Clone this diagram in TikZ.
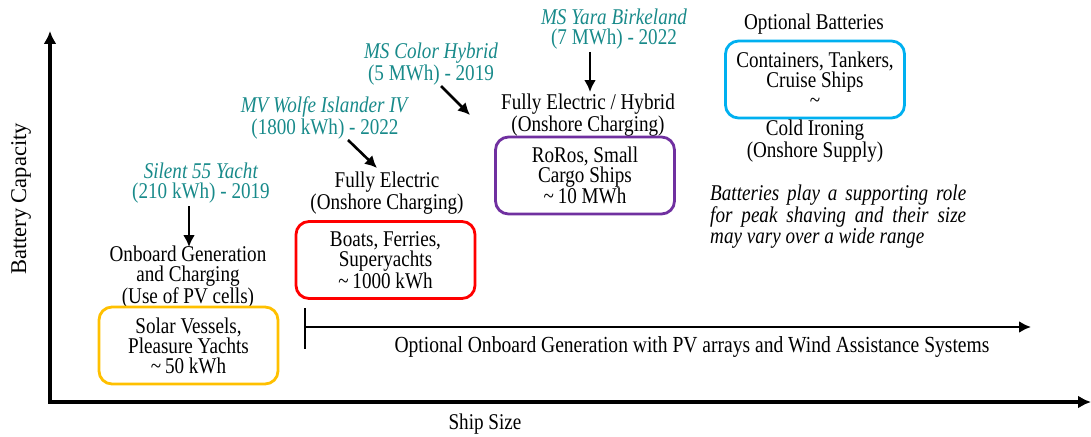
\documentclass[tikz,border=0pt]{standalone}
\usepackage{fontspec}
\setmainfont{Liberation Serif}[FakeStretch=0.85]
\newfontfamily\axisfont{Liberation Serif}
\usepackage{tikz}
\usetikzlibrary{arrows.meta,calc,positioning}
\definecolor{shipteal}{RGB}{24,138,138}
\definecolor{boxyellow}{RGB}{255,192,0}
\definecolor{boxred}{RGB}{255,0,0}
\definecolor{boxpurple}{RGB}{112,48,160}
\definecolor{boxblue}{RGB}{0,176,240}
\tikzset{
        block/.style = {draw, rectangle, rounded corners=13pt, line width=2.8pt,
            minimum height=77pt,
            minimum width=179pt, align=center, inner sep=0pt},
        note/.style = {align=center, inner sep=0pt},
        vessel/.style = {note, text=shipteal},
        pointer/.style = {draw, line width=2.6pt, -{Latex[length=12pt,width=12pt]}},
        axis/.style = {draw, line width=3.4pt, {Latex[length=13pt,width=13pt]}-{Latex[length=13pt,width=13pt]}},
    }

\begin{document}
\begin{tikzpicture}[x=1pt, y=-1pt, font=\fontsize{22.5}{20}\selectfont]
    \useasboundingbox (0,0) rectangle (1091,436);

    % axes
    \coordinate (origin) at (50,402);
    \coordinate (ytop) at (50,31);
    \coordinate (xend) at (1091,402);
    \draw[axis] (ytop) -- (origin) -- (xend);
    \node[note, rotate=90, font=\axisfont\fontsize{22.5}{20}\selectfont] (ylab) at (21,199) {Battery Capacity};
    \node[note] (xlab) at (485,424) {Ship Size};

    % small vessels
    \node[vessel] (silent) at (201,183) {\textit{Silent 55 Yacht}\\(210 kWh) - 2019};
    \node[note] (onboard) at (188,277) {Onboard Generation\\and Charging\\(Use of PV cells)};
    \node[block, draw=boxyellow] (solar) at (188.5,345.5) {Solar Vessels,\\Pleasure Yachts\\\textasciitilde\,50 kWh};
    \coordinate (silentfrom) at (189,206);
    \coordinate (silentto) at (189,247);
    \draw[pointer] (silentfrom) -- (silentto);

    % ferries
    \node[vessel] (wolfe) at (325,118) {\textit{MV Wolfe Islander IV}\\(1800 kWh) - 2022};
    \node[note] (fullyel) at (387,193) {Fully Electric\\(Onshore Charging)};
    \node[block, draw=boxred] (ferries) at (385.5,260) {Boats, Ferries,\\Superyachts\\\textasciitilde\,1000 kWh};
    \coordinate (wolfefrom) at (348,140);
    \coordinate (wolfeto) at (377,168);
    \draw[pointer] (wolfefrom) -- (wolfeto);

    % cargo
    \node[vessel] (color) at (431,64) {\textit{MS Color Hybrid}\\(5 MWh) - 2019};
    \node[vessel] (yara) at (614,29) {\textit{MS Yara Birkeland}\\(7 MWh) - 2022};
    \node[note] (fullyhyb) at (588,115) {Fully Electric / Hybrid\\(Onshore Charging)};
    \node[block, draw=boxpurple] (roros) at (585,175.5) {RoRos, Small\\Cargo Ships\\\textasciitilde\,10 MWh};
    \coordinate (colorfrom) at (441,86);
    \coordinate (colorto) at (470,115);
    \draw[pointer] (colorfrom) -- (colorto);
    \coordinate (yarafrom) at (590,52);
    \coordinate (yarato) at (590,92);
    \draw[pointer] (yarafrom) -- (yarato);

    % large ships
    \node[note] (optbat) at (814,24) {Optional Batteries};
    \node[block, draw=boxblue] (large) at (815,79.5) {Containers, Tankers,\\Cruise Ships\\\textasciitilde};
    \node[note] (coldiron) at (815,141) {Cold Ironing\\(Onshore Supply)};
    \node[note, anchor=north west, align=left, font=\fontsize{22.5}{20}\selectfont\itshape] (support) at (710,185)
        {\makebox[256pt][s]{Batteries play a supporting role}\\
         \makebox[256pt][s]{for peak shaving and their size}\\
         may vary over a wide range};

    % onboard generation range
    \coordinate (opttop) at (305,308);
    \coordinate (optbot) at (305,349);
    \coordinate (optstart) at (305,327);
    \coordinate (optend) at (1031,327);
    \draw[line width=2.6pt] (opttop) -- (optbot);
    \draw[pointer] (optstart) -- (optend);
    \node[note, font=\fontsize{23}{20}\selectfont] (optgen) at (692,347) {Optional Onboard Generation with PV arrays and Wind Assistance Systems};
\end{tikzpicture}
\end{document}
